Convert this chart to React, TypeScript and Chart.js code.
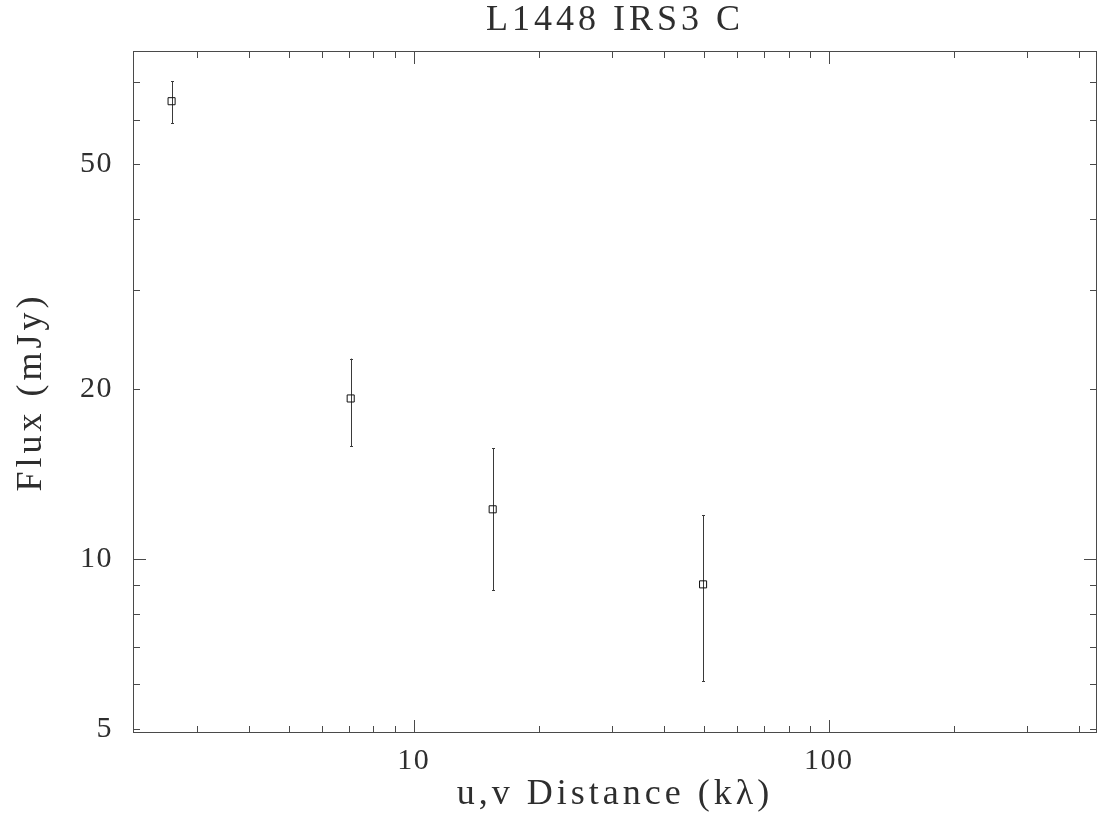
import React, { useEffect, useRef } from "react";
import { Chart, registerables } from "chart.js";

Chart.register(...registerables);

const TITLE = "L1448 IRS3 C";
const X_LABEL = "u,v Distance (kλ)";
const Y_LABEL = "Flux (mJy)";

// data (uv distance in kλ, flux in mJy, 1-sigma error in mJy)
const uvDistance = [2.61, 7.05, 15.5, 49.8];
const flux = [64.7, 19.25, 12.25, 9.02];
const fluxError = [5.5, 3.4, 3.45, 2.95];

// axis ranges
const X_MIN = 2.107;
const X_MAX = 443;
const Y_MIN = 4.92;
const Y_MAX = 79.4;

// tick labels and tick marks
const xTickLabels = [10, 100];
const yTickLabels = [5, 10, 20, 50];
const xMajorTicks = [10, 100];
const xMinorTicks = [3, 4, 5, 6, 7, 8, 9, 20, 30, 40, 50, 60, 70, 80, 90, 200, 300, 400];
const yMajorTicks = [10];
const yMinorTicks = [5, 6, 7, 8, 9, 20, 30, 40, 50, 60, 70];

const FONT = "'Liberation Serif', 'Times New Roman', serif";
const TEXT_COLOR = "#2e2e2e";
const LINE_COLOR = "#4a4a4a";

const textSpacing = {
  id: "textSpacing",
  beforeDraw(chart: any) {
    const ctx = chart.ctx as any;
    ctx.letterSpacing = "4px";
    Object.values(chart.scales).forEach((s: any) => {
      if (!s.__wrapped) {
        const orig = s.drawLabels.bind(s);
        s.drawLabels = (area: any) => {
          const prev = ctx.letterSpacing;
          ctx.letterSpacing = "1.5px";
          orig(area);
          ctx.letterSpacing = prev;
        };
        s.__wrapped = true;
      }
    });
  },
};

const frameTicksErrors = {
  id: "frameTicksErrors",
  beforeDatasetsDraw(chart: any) {
    const { ctx, chartArea, scales } = chart;
    const { left, right, top, bottom } = chartArea;
    const x = scales.x;
    const y = scales.y;
    ctx.save();
    ctx.strokeStyle = LINE_COLOR;
    ctx.lineWidth = 1;
    ctx.strokeRect(left + 0.5, top + 0.5, right - left - 1, bottom - top - 1);

    const xt = (vals: number[], len: number) => {
      vals.forEach((v) => {
        const px = Math.round(x.getPixelForValue(v)) + 0.5;
        ctx.beginPath();
        ctx.moveTo(px, bottom);
        ctx.lineTo(px, bottom - len);
        ctx.moveTo(px, top);
        ctx.lineTo(px, top + len);
        ctx.stroke();
      });
    };
    const yt = (vals: number[], len: number) => {
      vals.forEach((v) => {
        const py = Math.round(y.getPixelForValue(v)) + 0.5;
        ctx.beginPath();
        ctx.moveTo(left, py);
        ctx.lineTo(left + len, py);
        ctx.moveTo(right, py);
        ctx.lineTo(right - len, py);
        ctx.stroke();
      });
    };
    xt(xMajorTicks, 13);
    xt(xMinorTicks, 7);
    yt(yMajorTicks, 13);
    yt(yMinorTicks, 7);

    // error bars
    ctx.strokeStyle = "#3a3a3a";
    for (let i = 0; i < uvDistance.length; i++) {
      const px = Math.round(x.getPixelForValue(uvDistance[i])) + 0.5;
      const y1 = y.getPixelForValue(flux[i] + fluxError[i]);
      const y2 = y.getPixelForValue(flux[i] - fluxError[i]);
      ctx.beginPath();
      ctx.moveTo(px, y1);
      ctx.lineTo(px, y2);
      ctx.moveTo(px - 1.5, Math.round(y1) + 0.5);
      ctx.lineTo(px + 1.5, Math.round(y1) + 0.5);
      ctx.moveTo(px - 1.5, Math.round(y2) + 0.5);
      ctx.lineTo(px + 1.5, Math.round(y2) + 0.5);
      ctx.stroke();
    }
    ctx.restore();
  },
};

export default function App() {
  const ref = useRef<HTMLCanvasElement>(null);

  useEffect(() => {
    const points = uvDistance.map((d, i) => ({ x: d, y: flux[i] }));
    const chart = new Chart(ref.current as HTMLCanvasElement, {
      type: "scatter",
      data: {
        datasets: [
          {
            data: points,
            pointStyle: "rect",
            pointRadius: 5,
            pointBorderWidth: 1,
            pointBorderColor: "#111",
            pointBackgroundColor: "rgba(0,0,0,0)",
            showLine: false,
          } as any,
        ],
      },
      options: {
        responsive: false,
        animation: false,
        devicePixelRatio: 1,
        layout: { autoPadding: false, padding: { left: 0, right: 1, top: 0, bottom: 0 } },
        plugins: {
          legend: { display: false },
          tooltip: { enabled: false },
          title: {
            display: true,
            text: TITLE,
            fullSize: false,
            color: TEXT_COLOR,
            font: { family: FONT, size: 36, weight: "normal", lineHeight: 1 },
            padding: { top: 3, bottom: 12 },
          },
        },
        scales: {
          x: {
            type: "logarithmic",
            position: "bottom",
            min: X_MIN,
            max: X_MAX,
            bounds: "data",
            grid: { display: false, drawTicks: false },
            border: { display: false },
            afterBuildTicks: (s: any) => {
              s.ticks = xTickLabels.map((v) => ({ value: v }));
            },
            afterFit: (s: any) => {
              s.height = 92;
              s.paddingLeft = 0;
              s.paddingRight = 0;
            },
            ticks: {
              autoSkip: false,
              maxRotation: 0,
              padding: 10,
              color: TEXT_COLOR,
              font: { family: FONT, size: 30 },
              callback: (v: any) => String(v),
            },
            title: {
              display: true,
              text: X_LABEL,
              color: TEXT_COLOR,
              font: { family: FONT, size: 36, lineHeight: 1 },
              padding: { top: 0, bottom: 12 },
            },
          },
          y: {
            type: "logarithmic",
            position: "left",
            min: Y_MIN,
            max: Y_MAX,
            bounds: "data",
            grid: { display: false, drawTicks: false },
            border: { display: false },
            afterBuildTicks: (s: any) => {
              s.ticks = yTickLabels.map((v) => ({ value: v }));
            },
            afterFit: (s: any) => {
              s.width = 133;
              s.paddingTop = 0;
              s.paddingBottom = 0;
            },
            ticks: {
              autoSkip: false,
              padding: 20,
              color: TEXT_COLOR,
              font: { family: FONT, size: 30 },
              callback: (v: any) => String(v),
            },
            title: {
              display: true,
              text: Y_LABEL,
              color: TEXT_COLOR,
              font: { family: FONT, size: 36, lineHeight: 1 },
              padding: { top: 14, bottom: 0 },
            },
          },
        },
      } as any,
      plugins: [textSpacing, frameTicksErrors],
    });
    return () => chart.destroy();
  }, []);

  return (
    <div style={{ position: "fixed", left: 0, top: 0, width: 1098, height: 825, background: "#fff" }}>
      <canvas ref={ref} width={1098} height={825} style={{ display: "block", width: 1098, height: 825 }} />
    </div>
  );
}
